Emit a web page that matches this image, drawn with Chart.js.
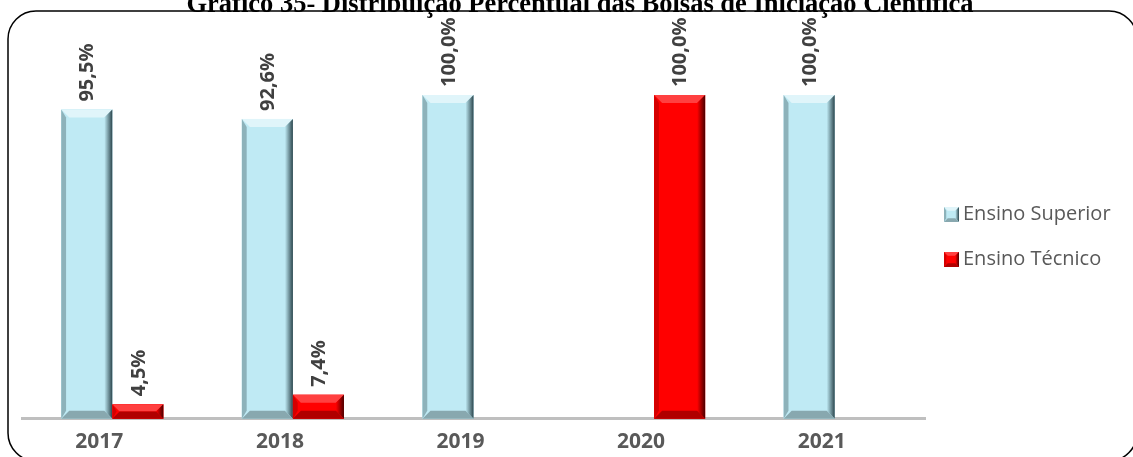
<!DOCTYPE html>
<html>
<head>
<meta charset="utf-8">
<script src="https://cdn.jsdelivr.net/npm/chart.js@4/dist/chart.umd.min.js"></script>
<style>
  html, body { margin: 0; padding: 0; background: #fff; }
  #wrap { width: 1133px; height: 457px; position: relative; }
</style>
</head>
<body>
<div id="wrap"><canvas id="bolsasChart"></canvas></div>
<script>
var anos = ['2017', '2018', '2019', '2020', '2021'];
var ensinoSuperior = [95.5, 92.6, 100, null, 100];
var ensinoTecnico = [4.5, 7.4, null, 100, null];
var tituloGrafico = 'Gráfico 35- Distribuição Percentual das Bolsas de Iniciação Científica';

var paletas = [
    { base: '#bfeaf4', top: '#e0f5fa', left: '#8db2ba', right: '#2c464d', bottom: '#88a8af' },
    { base: '#ff0000', top: '#ff4040', left: '#d40000', right: '#4a0000', bottom: '#b00000' }
];

function desenhaBevel(ctx, x0, x1, top, bottom, p) {
    var b = Math.min(8, (bottom - top) / 2, (x1 - x0) / 4);
    ctx.fillStyle = p.base;
    ctx.fillRect(x0, top, x1 - x0, bottom - top);
    // topo
    ctx.fillStyle = p.top;
    ctx.beginPath();
    ctx.moveTo(x0, top); ctx.lineTo(x1, top); ctx.lineTo(x1 - b, top + b); ctx.lineTo(x0 + b, top + b);
    ctx.closePath(); ctx.fill();
    // esquerda
    ctx.fillStyle = p.left;
    ctx.beginPath();
    ctx.moveTo(x0, top); ctx.lineTo(x0 + b * 0.6, top + b); ctx.lineTo(x0 + b * 0.6, bottom - b); ctx.lineTo(x0, bottom);
    ctx.closePath(); ctx.fill();
    // direita
    var g = ctx.createLinearGradient(x1 - b, 0, x1, 0);
    g.addColorStop(0, p.base);
    g.addColorStop(1, p.right);
    ctx.fillStyle = g;
    ctx.beginPath();
    ctx.moveTo(x1, top); ctx.lineTo(x1, bottom); ctx.lineTo(x1 - b, bottom - b); ctx.lineTo(x1 - b, top + b);
    ctx.closePath(); ctx.fill();
    // base
    ctx.fillStyle = p.bottom;
    ctx.beginPath();
    ctx.moveTo(x0, bottom); ctx.lineTo(x1, bottom); ctx.lineTo(x1 - b, bottom - b); ctx.lineTo(x0 + b, bottom - b);
    ctx.closePath(); ctx.fill();
}

var moldura = {
    id: 'moldura',
    afterDraw: function (chart) {
        var ctx = chart.ctx;
        ctx.save();
        ctx.strokeStyle = '#000';
        ctx.lineWidth = 1.5;
        ctx.beginPath();
        ctx.roundRect(8, 11, 1129, 450, 28);
        ctx.stroke();
        ctx.fillStyle = '#000';
        ctx.font = 'bold 26.5px "Liberation Serif"';
        ctx.textAlign = 'center';
        ctx.textBaseline = 'alphabetic';
        ctx.fillText(tituloGrafico, 580, 12);
        ctx.restore();
    }
};

var barrasBevel = {
    id: 'barrasBevel',
    afterDatasetsDraw: function (chart) {
        var ctx = chart.ctx;
        ctx.save();
        chart.data.datasets.forEach(function (ds, i) {
            var meta = chart.getDatasetMeta(i);
            meta.data.forEach(function (el, j) {
                var v = ds.data[j];
                if (v === null || v === undefined) return;
                var x0 = el.x - el.width / 2, x1 = el.x + el.width / 2;
                desenhaBevel(ctx, x0, x1, el.y, el.base, paletas[i]);
                // rotulo de valor
                ctx.save();
                ctx.translate(el.x, el.y - 8);
                ctx.rotate(-Math.PI / 2);
                ctx.fillStyle = '#404040';
                ctx.font = 'bold 20px "Open Sans"';
                ctx.textAlign = 'left';
                ctx.textBaseline = 'middle';
                ctx.fillText(v.toFixed(1).replace('.', ',') + '%', 0, 1);
                ctx.restore();
            });
        });
        // legenda
        ctx.font = '20px "Open Sans"';
        ctx.textAlign = 'left';
        ctx.textBaseline = 'middle';
        var ly = [214, 259];
        chart.data.datasets.forEach(function (ds, i) {
            desenhaBevel(ctx, 944, 959, ly[i] - 7, ly[i] + 8, paletas[i]);
            ctx.fillStyle = '#595959';
            ctx.fillText(ds.label, 963, ly[i]);
        });
        ctx.restore();
    }
};

var ctx = document.getElementById('bolsasChart').getContext('2d');
new Chart(ctx, {
    type: 'bar',
    data: {
        labels: anos,
        datasets: [{
            label: 'Ensino Superior',
            backgroundColor: paletas[0].base,
            data: ensinoSuperior
        }, {
            label: 'Ensino Técnico',
            backgroundColor: paletas[1].base,
            data: ensinoTecnico
        }]
    },
    options: {
        responsive: true,
        maintainAspectRatio: false,
        animation: false,
        layout: { padding: { left: 22, right: 208, top: 95, bottom: -9 } },
        categoryPercentage: 0.565,
        barPercentage: 1.0,
        plugins: {
            legend: { display: false },
            tooltip: { enabled: false }
        },
        scales: {
            x: {
                grid: { display: false, drawTicks: false },
                border: { display: true, color: '#bfbfbf', width: 3 },
                ticks: {
                    color: '#595959',
                    font: { family: 'Open Sans', size: 21, weight: 'bold' },
                    padding: 11,
                    labelOffset: -13
                }
            },
            y: {
                display: false,
                min: 0,
                max: 100
            }
        }
    },
    plugins: [moldura, barrasBevel]
});
</script>
</body>
</html>
